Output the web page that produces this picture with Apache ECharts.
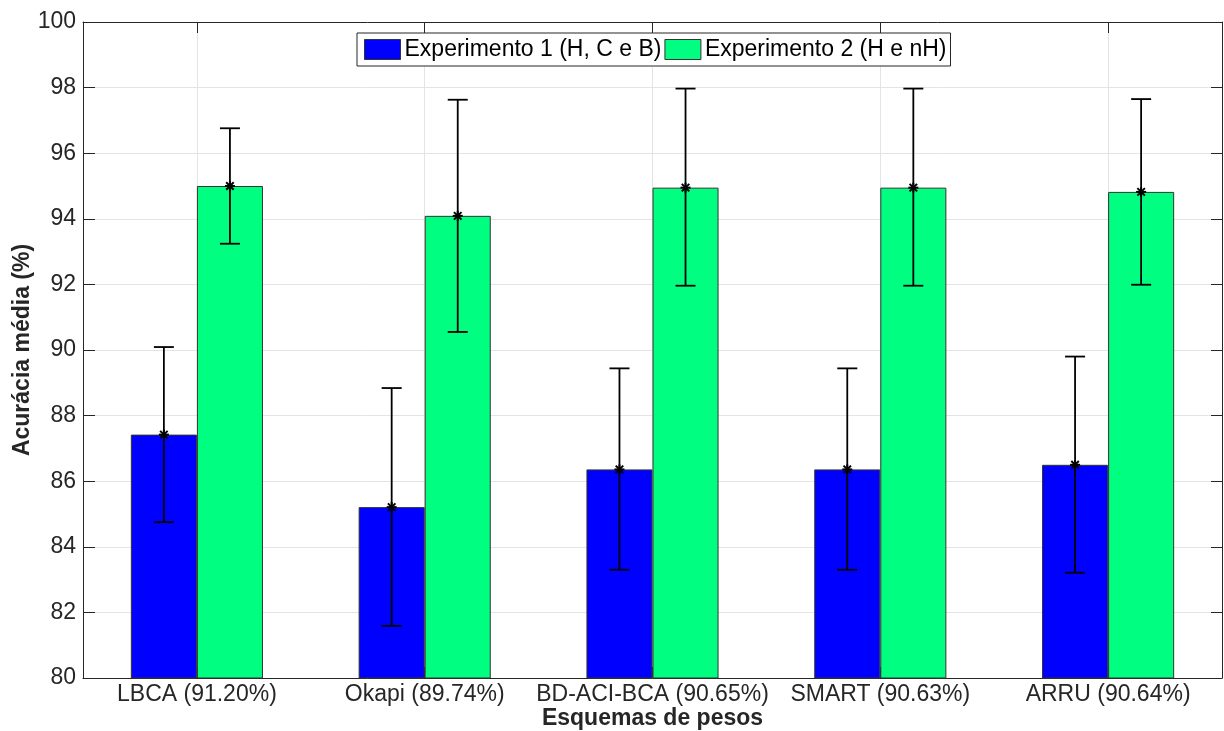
<!DOCTYPE html>
<html>
<head>
<meta charset="utf-8">
<script src="https://cdn.jsdelivr.net/npm/echarts@6/dist/echarts.min.js"></script>
<style>
html,body{margin:0;padding:0;background:#fff;}
#chart{width:1224px;height:731px;}
</style>
</head>
<body>
<div id="chart"></div>
<script>
// ---- data ----
const categories = ['LBCA (91.20%)', 'Okapi (89.74%)', 'BD-ACI-BCA (90.65%)', 'SMART (90.63%)', 'ARRU (90.64%)'];
const seriesNames = ['Experimento 1 (H, C e B)', 'Experimento 2 (H e nH)'];
const exp1Mean = [87.42, 85.21, 86.36, 86.36, 86.50];
const exp1Low  = [84.75, 81.59, 83.30, 83.30, 83.21];
const exp1High = [90.09, 88.84, 89.44, 89.44, 89.80];
const exp2Mean = [95.00, 94.09, 94.95, 94.95, 94.82];
const exp2Low  = [93.24, 90.55, 91.96, 91.96, 91.99];
const exp2High = [96.76, 97.63, 97.97, 97.97, 97.65];
const yTicks = [80, 82, 84, 86, 88, 90, 92, 94, 96, 98, 100];

const FONT = "'Liberation Sans', Arial, Helvetica, sans-serif";
const AX = '#262626';
const GRID = '#e4e4e4';
const GAP = 0.42;

function errRows(mean, lo, hi) {
  return mean.map((m, i) => [i, m, lo[i], hi[i]]);
}

function makeRender(sign) {
  return function (params, api) {
    const i = api.value(0);
    const band = api.size([1, 0])[0];
    const dx = sign * band * (1 - GAP) / 4;
    const c = api.coord([i, api.value(1)]);
    const lo = api.coord([i, api.value(2)]);
    const hi = api.coord([i, api.value(3)]);
    const x = c[0] + dx;
    const cap = 10;
    const s = 5;
    const ls = { stroke: '#000', lineWidth: 1.8 };
    const ms = { stroke: '#000', lineWidth: 2 };
    return {
      type: 'group',
      children: [
        { type: 'line', shape: { x1: x, y1: lo[1], x2: x, y2: hi[1] }, style: ls },
        { type: 'line', shape: { x1: x - cap, y1: lo[1], x2: x + cap, y2: lo[1] }, style: ls },
        { type: 'line', shape: { x1: x - cap, y1: hi[1], x2: x + cap, y2: hi[1] }, style: ls },
        { type: 'line', shape: { x1: x - s, y1: c[1], x2: x + s, y2: c[1] }, style: ms },
        { type: 'line', shape: { x1: x, y1: c[1] - s, x2: x, y2: c[1] + s }, style: ms },
        { type: 'line', shape: { x1: x - s * 0.75, y1: c[1] - s * 0.75, x2: x + s * 0.75, y2: c[1] + s * 0.75 }, style: ms },
        { type: 'line', shape: { x1: x - s * 0.75, y1: c[1] + s * 0.75, x2: x + s * 0.75, y2: c[1] - s * 0.75 }, style: ms }
      ]
    };
  };
}

const chart = echarts.init(document.getElementById('chart'), null, { renderer: 'canvas' });
chart.setOption({
  animation: false,
  backgroundColor: '#fff',
  textStyle: { fontFamily: FONT },
  grid: { left: 83, right: 2, top: 22, bottom: 53, containLabel: false, outerBoundsMode: 'none' },
  legend: {
    data: seriesNames,
    left: 357,
    top: 33,
    orient: 'horizontal',
    itemWidth: 36,
    itemHeight: 20,
    itemGap: 3,
    padding: [5, 4, 5, 7],
    backgroundColor: '#fff',
    borderColor: AX,
    borderWidth: 1,
    borderRadius: 0,
    icon: 'rect',
    textStyle: { fontSize: 23, color: '#000', fontFamily: FONT, lineHeight: 21, padding: [0, 0, 0, -1] },
    itemStyle: { borderColor: '#333', borderWidth: 1 }
  },
  xAxis: [
    {
      type: 'category',
      data: categories,
      position: 'bottom',
      boundaryGap: true,
      name: 'Esquemas de pesos',
      nameLocation: 'middle',
      nameGap: 29,
      nameMoveOverlap: false,
      nameTextStyle: { fontSize: 23, fontWeight: 'bold', color: AX, fontFamily: FONT },
      axisLine: { show: true, onZero: false, lineStyle: { color: AX, width: 1 } },
      axisTick: { show: true, inside: true, length: 11, alignWithLabel: true, lineStyle: { color: AX } },
      axisLabel: { fontSize: 23, color: AX, margin: 5, fontFamily: FONT, interval: 0 },
      splitLine: { show: true, alignWithLabel: true, interval: 0, lineStyle: { color: GRID, width: 1 } }
    },
    {
      type: 'category',
      data: categories,
      position: 'top',
      boundaryGap: true,
      axisLine: { show: true, onZero: false, lineStyle: { color: AX, width: 1 } },
      axisTick: { show: true, inside: true, length: 11, alignWithLabel: true, lineStyle: { color: AX } },
      axisLabel: { show: false },
      splitLine: { show: false }
    }
  ],
  yAxis: [
    {
      type: 'value',
      min: 80,
      max: 100,
      interval: 2,
      position: 'left',
      name: 'Acurácia média (%)',
      nameLocation: 'middle',
      nameRotate: 90,
      nameGap: 49,
      nameMoveOverlap: false,
      nameTextStyle: { fontSize: 23, fontWeight: 'bold', color: AX, fontFamily: FONT },
      axisLine: { show: true, onZero: false, lineStyle: { color: AX, width: 1 } },
      axisTick: { show: true, inside: true, length: 12, lineStyle: { color: AX } },
      axisLabel: {
        fontSize: 23, color: AX, margin: 7, fontFamily: FONT,
        formatter: v => (yTicks.indexOf(v) >= 0 ? String(v) : '')
      },
      splitLine: { show: true, lineStyle: { color: GRID, width: 1 } }
    },
    {
      type: 'value',
      min: 80,
      max: 100,
      interval: 2,
      position: 'right',
      axisLine: { show: true, onZero: false, lineStyle: { color: AX, width: 1 } },
      axisTick: { show: true, inside: true, length: 11, lineStyle: { color: AX } },
      axisLabel: { show: false },
      splitLine: { show: false }
    }
  ],
  series: [
    {
      name: seriesNames[0],
      type: 'bar',
      data: exp1Mean,
      barGap: '0%',
      barCategoryGap: (GAP * 100) + '%',
      itemStyle: { color: '#0000ff', borderColor: '#333', borderWidth: 1 },
      z: 2
    },
    {
      name: seriesNames[1],
      type: 'bar',
      data: exp2Mean,
      barGap: '0%',
      barCategoryGap: (GAP * 100) + '%',
      itemStyle: { color: '#00ff80', borderColor: '#333', borderWidth: 1 },
      z: 2
    },
    {
      name: 'err1',
      type: 'custom',
      renderItem: makeRender(-1),
      data: errRows(exp1Mean, exp1Low, exp1High),
      encode: { x: 0, y: [1, 2, 3] },
      z: 5,
      silent: true
    },
    {
      name: 'err2',
      type: 'custom',
      renderItem: makeRender(1),
      data: errRows(exp2Mean, exp2Low, exp2High),
      encode: { x: 0, y: [1, 2, 3] },
      z: 5,
      silent: true
    }
  ]
});
</script>
</body>
</html>
